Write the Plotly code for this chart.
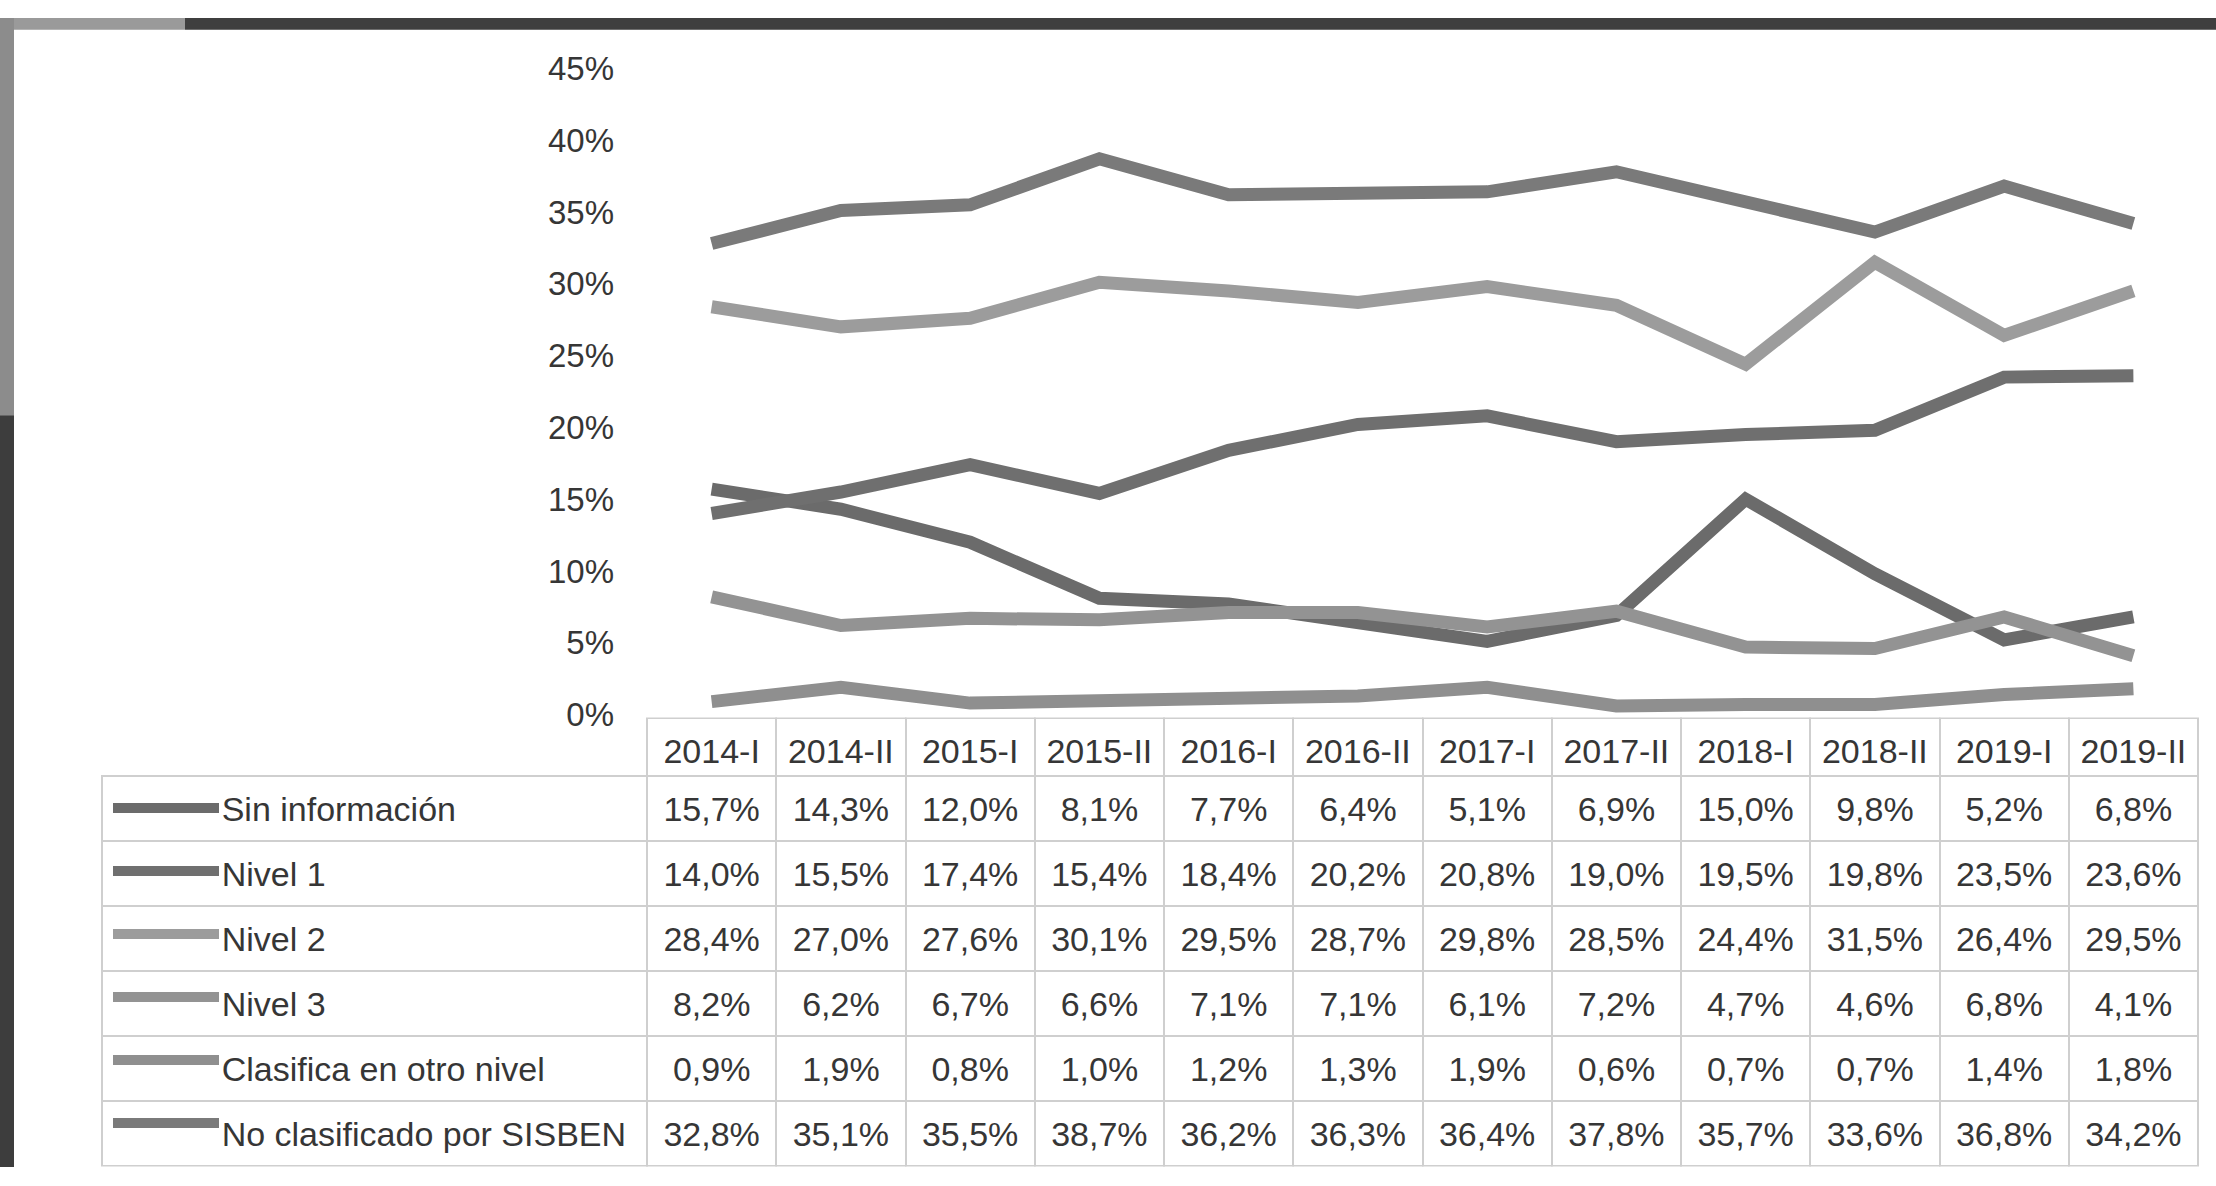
import plotly.graph_objects as go

W, H = 2216, 1186

periods = ["2014-I", "2014-II", "2015-I", "2015-II", "2016-I", "2016-II",
           "2017-I", "2017-II", "2018-I", "2018-II", "2019-I", "2019-II"]

sin_informacion = [15.7, 14.3, 12.0, 8.1, 7.7, 6.4, 5.1, 6.9, 15.0, 9.8, 5.2, 6.8]
nivel_1 = [14.0, 15.5, 17.4, 15.4, 18.4, 20.2, 20.8, 19.0, 19.5, 19.8, 23.5, 23.6]
nivel_2 = [28.4, 27.0, 27.6, 30.1, 29.5, 28.7, 29.8, 28.5, 24.4, 31.5, 26.4, 29.5]
nivel_3 = [8.2, 6.2, 6.7, 6.6, 7.1, 7.1, 6.1, 7.2, 4.7, 4.6, 6.8, 4.1]
otro_nivel = [0.9, 1.9, 0.8, 1.0, 1.2, 1.3, 1.9, 0.6, 0.7, 0.7, 1.4, 1.8]
no_clasificado = [32.8, 35.1, 35.5, 38.7, 36.2, 36.3, 36.4, 37.8, 35.7, 33.6, 36.8, 34.2]

series_names = ["Sin información", "Nivel 1", "Nivel 2", "Nivel 3",
                "Clasifica en otro nivel", "No clasificado por SISBEN"]
series_values = [sin_informacion, nivel_1, nivel_2, nivel_3, otro_nivel, no_clasificado]
series_colors = ["#6b6b6b", "#6f6f6f", "#9c9c9c", "#939393", "#8f8f8f", "#7a7a7a"]

FONT = "Liberation Sans, Arial, sans-serif"
TEXT = "#363636"
GRID = "#cfcfcf"
CLEAR = "rgba(0,0,0,0)"
FSIZE = 34

# pixel layout (figure is drawn with zero margins)
table_left, label_right, table_right = 102, 647, 2198
header_top, header_h, row_h = 723, 58, 65
text_shift = 11  # plotly tables top-align text; nudge it to the row middle
plot_top, plot_bottom = 52, 719
col_w = (table_right - label_right) / len(periods)
n = len(periods)

fig = go.Figure()

for name, vals, color in zip(series_names, series_values, series_colors):
    fig.add_trace(go.Scatter(
        x=periods, y=vals, name=name, mode="lines",
        line=dict(color=color, width=13), showlegend=False,
        hoverinfo="skip",
    ))

# data table under the chart
fmt = lambda v: f"{v:.1f}%".replace(".", ",")
label_col = ["\u2003\u2003\u2003\u2009\u200a" + s for s in series_names]
cell_cols = [label_col] + [[fmt(s[i]) for s in series_values] for i in range(n)]
widths = [label_right - table_left] + [col_w] * n

# grid of the table
fig.add_trace(go.Table(
    domain=dict(x=[table_left / W, table_right / W], y=[0, 1 - header_top / H]),
    columnwidth=widths,
    header=dict(values=[""] * (n + 1), height=header_h,
                fill_color=[CLEAR] + ["white"] * n,
                line=dict(color=[CLEAR] + [GRID] * n, width=2)),
    cells=dict(values=[[""] * len(series_names)] * (n + 1), height=row_h,
               fill_color="white", line=dict(color=GRID, width=2)),
))

# text of the table
fig.add_trace(go.Table(
    domain=dict(x=[table_left / W, table_right / W], y=[0, 1 - (header_top + text_shift) / H]),
    columnwidth=widths,
    header=dict(values=[""] + periods, height=header_h,
                fill_color=CLEAR, line=dict(color=CLEAR, width=0),
                align="center", font=dict(family=FONT, size=FSIZE, color=TEXT)),
    cells=dict(values=cell_cols, height=row_h,
               fill_color=CLEAR, line=dict(color=CLEAR, width=0),
               align=["left"] + ["center"] * n,
               font=dict(family=FONT, size=FSIZE, color=TEXT)),
))

shapes = []
# legend swatches in the label column
for i, color in enumerate(series_colors):
    yc = header_top + header_h + row_h * (i + 0.5) + 2
    shapes.append(dict(type="line", xref="paper", yref="paper",
                       x0=113 / W, x1=219 / W, y0=1 - yc / H, y1=1 - yc / H,
                       line=dict(color=color, width=10)))

# photo frame around the chart
shapes += [
    dict(type="rect", xref="paper", yref="paper", x0=185 / W, x1=1, y0=1 - 12 / H, y1=1,
         fillcolor="#3f3f3f", line=dict(width=0), layer="above"),
    dict(type="rect", xref="paper", yref="paper", x0=0, x1=185 / W, y0=1 - 12 / H, y1=1,
         fillcolor="#9a9a9a", line=dict(width=0), layer="above"),
    dict(type="rect", xref="paper", yref="paper", x0=0, x1=14 / W, y0=1 - 410 / H, y1=1,
         fillcolor="#8c8c8c", line=dict(width=0), layer="above"),
    dict(type="rect", xref="paper", yref="paper", x0=0, x1=14 / W, y0=0, y1=1 - 410 / H,
         fillcolor="#3d3d3d", line=dict(width=0), layer="above"),
]

fig.update_layout(
    width=W, height=H,
    margin=dict(l=0, r=0, t=0, b=0),
    paper_bgcolor="white", plot_bgcolor="white",
    showlegend=False,
    font=dict(family=FONT, color=TEXT),
    xaxis=dict(
        domain=[label_right / W, table_right / W],
        range=[-0.5, n - 0.5],
        showticklabels=False, showgrid=False, zeroline=False, showline=False,
    ),
    yaxis=dict(
        domain=[1 - plot_bottom / H, 1 - plot_top / H],
        range=[0, 45], dtick=5, ticksuffix="%",
        showgrid=False, zeroline=False, showline=False,
        ticklabelstandoff=32,
        tickfont=dict(family=FONT, size=33, color=TEXT),
    ),
    shapes=shapes,
)

fig.write_html("out.html", config={"displayModeBar": False},
               post_script="document.body.style.margin='0px';")
